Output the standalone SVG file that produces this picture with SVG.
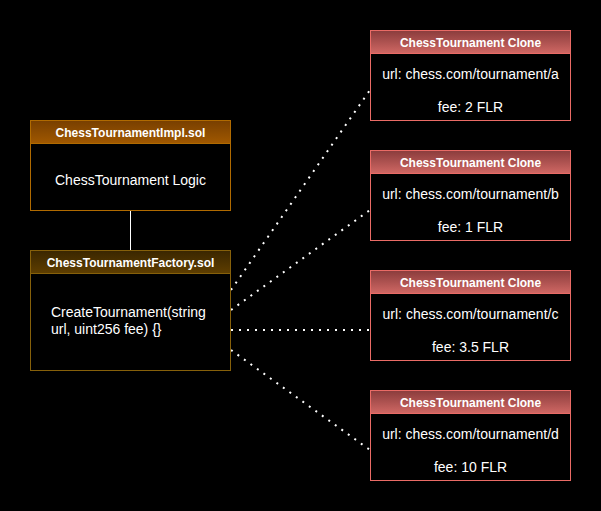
<svg xmlns="http://www.w3.org/2000/svg" width="601" height="511" viewBox="0 0 601 511">
<defs>
<linearGradient id="gImpl" x1="0" y1="0" x2="0" y2="1"><stop offset="0" stop-color="#783f00"/><stop offset="1" stop-color="#a05800"/></linearGradient>
<linearGradient id="gFac" x1="0" y1="0" x2="0" y2="1"><stop offset="0" stop-color="#3a2600"/><stop offset="1" stop-color="#5e3e00"/></linearGradient>
<linearGradient id="gClone" x1="0" y1="0" x2="0" y2="1"><stop offset="0" stop-color="#8a3c3c"/><stop offset="1" stop-color="#d06864"/></linearGradient>
</defs>
<style>
text{font-family:"Liberation Sans",Arial,Helvetica,sans-serif;fill:#ffffff}
.h{font-size:12px;font-weight:bold;text-anchor:middle}
.b{font-size:14px}
.c{text-anchor:middle}
.impl{stroke:#b06a00;stroke-width:1}
.fac{stroke:#86600a;stroke-width:1}
.clone{stroke:#ea6b66;stroke-width:1}
.dot{stroke:#ffffff;stroke-width:2;stroke-dasharray:2 6;fill:none}
</style>
<rect width="601" height="511" fill="#000000"/>
<g id="connectors">
<line x1="130.5" y1="210" x2="130.5" y2="250" stroke="#ffffff" stroke-width="1"/>
<line class="dot" x1="231" y1="290" x2="370" y2="90"/>
<line class="dot" x1="231" y1="310" x2="370" y2="210"/>
<line class="dot" x1="231" y1="330" x2="370" y2="330"/>
<line class="dot" x1="231" y1="350" x2="370" y2="450"/>
</g>
<g id="impl">
<rect x="30.5" y="120.5" width="200" height="90" fill="#000000" class="impl"/>
<rect x="30.5" y="120.5" width="200" height="23" fill="url(#gImpl)" class="impl"/>
<text class="h" x="130.5" y="137">ChessTournamentImpl.sol</text>
<text class="b c" x="130.5" y="185">ChessTournament Logic</text>
</g>
<g id="factory">
<rect x="30.5" y="250.5" width="200" height="120" fill="#000000" class="fac"/>
<rect x="30.5" y="250.5" width="200" height="23" fill="url(#gFac)" class="fac"/>
<text class="h" x="130.5" y="267">ChessTournamentFactory.sol</text>
<text class="b" x="51" y="317">CreateTournament(string</text>
<text class="b" x="51" y="334">url, uint256 fee) {}</text>
</g>
<g id="clone-a">
<rect x="370.5" y="30.5" width="200" height="90" fill="#000000" class="clone"/>
<rect x="370.5" y="30.5" width="200" height="23" fill="url(#gClone)" class="clone"/>
<text class="h" x="470.5" y="47">ChessTournament Clone</text>
<text class="b c" x="470.5" y="79">url: chess.com/tournament/a</text>
<text class="b c" x="470.5" y="112">fee: 2 FLR</text>
</g>
<g id="clone-b">
<rect x="370.5" y="150.5" width="200" height="90" fill="#000000" class="clone"/>
<rect x="370.5" y="150.5" width="200" height="23" fill="url(#gClone)" class="clone"/>
<text class="h" x="470.5" y="167">ChessTournament Clone</text>
<text class="b c" x="470.5" y="199">url: chess.com/tournament/b</text>
<text class="b c" x="470.5" y="232">fee: 1 FLR</text>
</g>
<g id="clone-c">
<rect x="370.5" y="270.5" width="200" height="90" fill="#000000" class="clone"/>
<rect x="370.5" y="270.5" width="200" height="23" fill="url(#gClone)" class="clone"/>
<text class="h" x="470.5" y="287">ChessTournament Clone</text>
<text class="b c" x="470.5" y="319">url: chess.com/tournament/c</text>
<text class="b c" x="470.5" y="352">fee: 3.5 FLR</text>
</g>
<g id="clone-d">
<rect x="370.5" y="390.5" width="200" height="90" fill="#000000" class="clone"/>
<rect x="370.5" y="390.5" width="200" height="23" fill="url(#gClone)" class="clone"/>
<text class="h" x="470.5" y="407">ChessTournament Clone</text>
<text class="b c" x="470.5" y="439">url: chess.com/tournament/d</text>
<text class="b c" x="470.5" y="472">fee: 10 FLR</text>
</g>
</svg>
